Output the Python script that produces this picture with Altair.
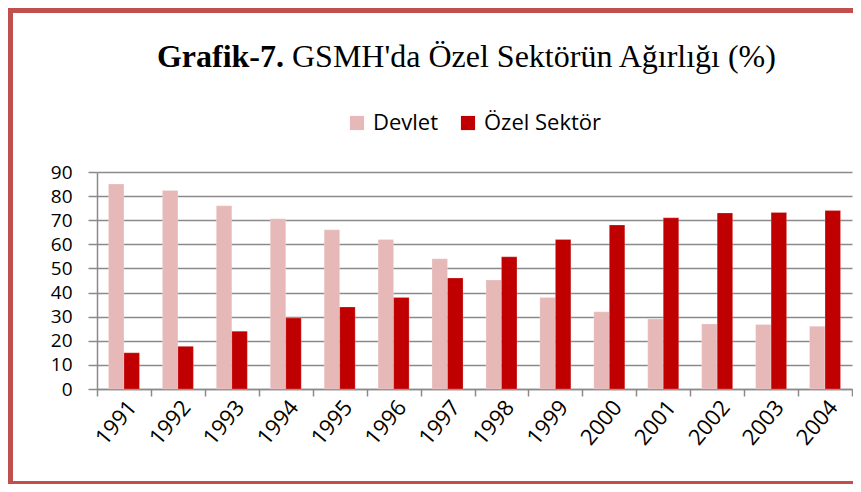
import altair as alt
import pandas as pd

years = ["1991", "1992", "1993", "1994", "1995", "1996", "1997",
         "1998", "1999", "2000", "2001", "2002", "2003", "2004"]
devlet = [85, 82.3, 76, 70.6, 66, 62, 54, 45.2, 38, 32, 29, 27, 26.8, 26]
ozel = [15, 17.7, 24, 29.4, 34, 38, 46, 54.8, 62, 68, 71, 73, 73.2, 74]
series = ["Devlet", "Özel Sektör"]
colors = ["#e6b9b8", "#c00000"]
y_ticks = [0, 10, 20, 30, 40, 50, 60, 70, 80, 90]
title_bold = "Grafik-7."
title_rest = "GSMH'da Özel Sektörün Ağırlığı (%)"

rows = []
for i, yr in enumerate(years):
    rows.append({"Yıl": yr, "Seri": series[0], "Değer": devlet[i]})
    rows.append({"Yıl": yr, "Seri": series[1], "Değer": ozel[i]})
df = pd.DataFrame(rows)

W, H = 755, 217
FONT = "Open Sans"
GRID = "#8a8a8a"
BORDER = "#c0504d"

bars = alt.Chart(df).mark_bar(stroke="#ffffff", strokeWidth=0.4, strokeOpacity=0.5).encode(
    x=alt.X("Yıl:N", sort=years, title=None,
            scale=alt.Scale(paddingInner=0, paddingOuter=0),
            axis=alt.Axis(labelAngle=-50, labelAlign="right", labelBaseline="middle",
                          labelFont=FONT, labelFontSize=22, labelColor="#000000",
                          labelPadding=7, labelOffset=8, tickBand="extent", tickSize=7,
                          tickColor=GRID, tickWidth=1.5, domainColor=GRID,
                          domainWidth=1.5, grid=False)),
    xOffset=alt.XOffset("Seri:N", sort=series,
                        scale=alt.Scale(paddingInner=0, paddingOuter=0.74)),
    y=alt.Y("Değer:Q", title=None,
            scale=alt.Scale(domain=[0, 90], nice=False),
            axis=alt.Axis(values=y_ticks, labelFont=FONT, labelFontSize=19,
                          labelColor="#000000", labelPadding=16, tickSize=9,
                          tickColor=GRID, tickWidth=1.5, domainColor=GRID,
                          domainWidth=1.5, grid=True, gridColor=GRID,
                          gridWidth=1.5)),
    color=alt.Color("Seri:N", sort=series, title=None,
                    scale=alt.Scale(domain=series, range=colors),
                    legend=alt.Legend(orient="none", legendX=249, legendY=-60,
                                      direction="horizontal", symbolType="square",
                                      symbolSize=200, symbolStrokeWidth=0,
                                      symbolOpacity=1, labelFont=FONT,
                                      labelFontSize=22, labelColor="#000000",
                                      labelOffset=5, columnPadding=18,
                                      padding=0)),
)

one = pd.DataFrame({"a": [0]})

t1 = alt.Chart(pd.DataFrame({"t": [title_bold]})).mark_text(
    font="Liberation Serif", fontSize=32, fontWeight="bold", align="right",
    baseline="alphabetic", color="#000000"
).encode(x=alt.value(187), y=alt.value(-105), text="t:N")

t2 = alt.Chart(pd.DataFrame({"t": [title_rest]})).mark_text(
    font="Liberation Serif", fontSize=32, align="left",
    baseline="alphabetic", color="#000000"
).encode(x=alt.value(195), y=alt.value(-105), text="t:N")

b_left = alt.Chart(one).mark_rule(color=BORDER, strokeWidth=5).encode(
    x=alt.value(-86.5), y=alt.value(-164), y2=alt.value(312))
b_top = alt.Chart(one).mark_rule(color=BORDER, strokeWidth=5).encode(
    y=alt.value(-161.5), x=alt.value(-89), x2=alt.value(800))
b_bottom = alt.Chart(one).mark_rule(color=BORDER, strokeWidth=3).encode(
    y=alt.value(310.5), x=alt.value(-89), x2=alt.value(800))

chart = alt.layer(bars, t1, t2, b_left, b_top, b_bottom).properties(
    width=W, height=H,
    padding={"left": 89, "top": 164, "right": 1, "bottom": 95},
    autosize=alt.AutoSizeParams(type="none"),
    background="#ffffff",
).configure_view(stroke=None)

chart.save("out.html", embed_options={"renderer": "svg", "actions": False})
